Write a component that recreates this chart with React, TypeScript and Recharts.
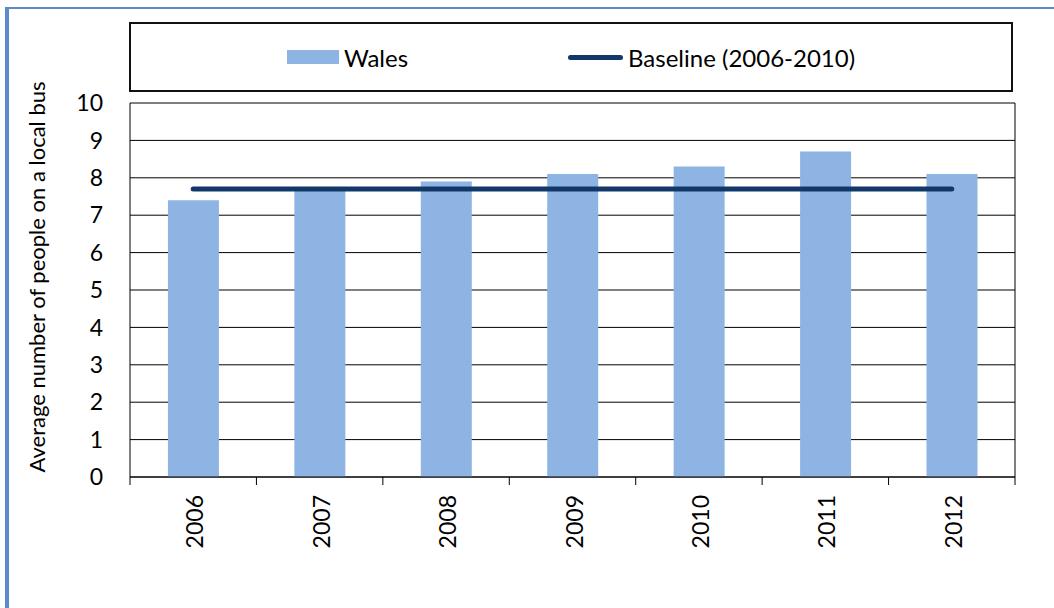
import {
  Bar,
  CartesianGrid,
  ComposedChart,
  Label,
  Legend,
  Line,
  XAxis,
  YAxis,
} from "recharts";

const years = ["2006", "2007", "2008", "2009", "2010", "2011", "2012"];
const walesValues = [7.4, 7.7, 7.9, 8.1, 8.3, 8.7, 8.1];
const baselineValues = [7.7, 7.7, 7.7, 7.7, 7.7, 7.7, 7.7];
const yTicks = [0, 1, 2, 3, 4, 5, 6, 7, 8, 9, 10];

const colors = {
  bar: "#8EB4E3",
  line: "#12386A",
  frame: "#5B8BC8",
  ink: "#000000",
};

const font = "Lato, 'Liberation Sans', Arial, sans-serif";

const chartWidth = 1054;
const chartHeight = 608;
const plotLeft = 130;
const plotRight = 1015;

const data = years.map((year, i) => ({
  year,
  wales: walesValues[i],
  baseline: baselineValues[i],
}));

// category band width, used only to place the boundary tick marks
const band = (plotRight - plotLeft) / years.length;

function YearTick(props: any) {
  const { x, y, payload, index } = props;
  const left = x - band / 2;
  return (
    <g>
      <line x1={left} y1={y} x2={left} y2={y + 8} stroke={colors.ink} />
      {index === years.length - 1 && (
        <line x1={x + band / 2} y1={y} x2={x + band / 2} y2={y + 8} stroke={colors.ink} />
      )}
      <text
        x={x + 1}
        y={y + 18}
        transform={`rotate(-90, ${x + 1}, ${y + 18})`}
        textAnchor="end"
        dominantBaseline="central"
        fontFamily={font}
        fontSize={23}
        fill={colors.ink}
      >
        {payload.value}
      </text>
    </g>
  );
}

function AxisTitle({ viewBox }: any) {
  const cx = viewBox.x + 36;
  const cy = viewBox.y + viewBox.height / 2 - 13;
  return (
    <text
      x={cx}
      y={cy}
      transform={`rotate(-90, ${cx}, ${cy})`}
      textAnchor="middle"
      dominantBaseline="central"
      fontFamily={font}
      fontSize={22}
      fill={colors.ink}
    >
      Average number of people on a local bus
    </text>
  );
}

function LegendBox({ payload }: any) {
  const items = [...(payload || [])].sort((a: any, b: any) =>
    a.type === "rect" ? -1 : b.type === "rect" ? 1 : 0
  );
  return (
    <div
      style={{
        boxSizing: "border-box",
        width: 884,
        height: 70,
        border: "2px solid #111",
        display: "flex",
        alignItems: "center",
        justifyContent: "center",
        fontFamily: font,
        fontSize: 24,
        color: colors.ink,
      }}
    >
      {items.map((item: any) => (
        <div
          key={item.value}
          style={{ display: "flex", alignItems: "center", marginRight: item.type === "rect" ? 160 : 0 }}
        >
          {item.type === "rect" ? (
            <span style={{ width: 52, height: 14, background: item.color, marginRight: 5 }} />
          ) : (
            <span
              style={{
                width: 55,
                height: 5,
                borderRadius: 3,
                background: item.color,
                marginRight: 5,
              }}
            />
          )}
          <span>{item.value}</span>
        </div>
      ))}
    </div>
  );
}

export default function App() {
  return (
    <div
      style={{
        position: "absolute",
        left: 0,
        top: 0,
        width: chartWidth,
        height: chartHeight,
        background: "#fff",
        overflow: "hidden",
      }}
    >
      <div
        style={{
          position: "absolute",
          left: 5,
          top: 7,
          width: 1100,
          height: 700,
          borderTop: `2px solid ${colors.frame}`,
          borderLeft: `4px solid ${colors.frame}`,
        }}
      />
      <ComposedChart
        width={chartWidth}
        height={chartHeight}
        data={data}
        margin={{ top: 103, right: chartWidth - plotRight - 1, bottom: 0, left: 0 }}
        barCategoryGap="30%"
        style={{ position: "absolute", left: 0, top: 0 }}
      >
        <CartesianGrid yAxisId="left" stroke={colors.ink} vertical={false} />
        <XAxis
          dataKey="year"
          height={131}
          axisLine={{ stroke: colors.ink }}
          tickLine={false}
          tickSize={0}
          tickMargin={0}
          interval={0}
          tick={<YearTick />}
        />
        <YAxis
          yAxisId="left"
          domain={[0, 10]}
          ticks={yTicks}
          width={plotLeft}
          axisLine={{ stroke: colors.ink }}
          tickLine={false}
          tickSize={0}
          tickMargin={27}
          tick={{ fill: colors.ink, fontSize: 23, fontFamily: font }}
        >
          <Label content={<AxisTitle />} />
        </YAxis>
        <YAxis
          yAxisId="right"
          orientation="right"
          domain={[0, 10]}
          width={1}
          tick={false}
          tickLine={false}
          axisLine={{ stroke: colors.ink }}
        />
        <Legend
          layout="horizontal"
          verticalAlign="middle"
          align="center"
          content={<LegendBox />}
          wrapperStyle={{ position: "absolute", left: 129, top: 22, width: 884, height: 70 }}
        />
        <Bar
          yAxisId="left"
          dataKey="wales"
          name="Wales"
          fill={colors.bar}
          legendType="rect"
          isAnimationActive={false}
        />
        <Line
          yAxisId="left"
          dataKey="baseline"
          name="Baseline (2006-2010)"
          stroke={colors.line}
          strokeWidth={5}
          strokeLinecap="round"
          dot={false}
          activeDot={false}
          legendType="line"
          isAnimationActive={false}
        />
      </ComposedChart>
    </div>
  );
}
